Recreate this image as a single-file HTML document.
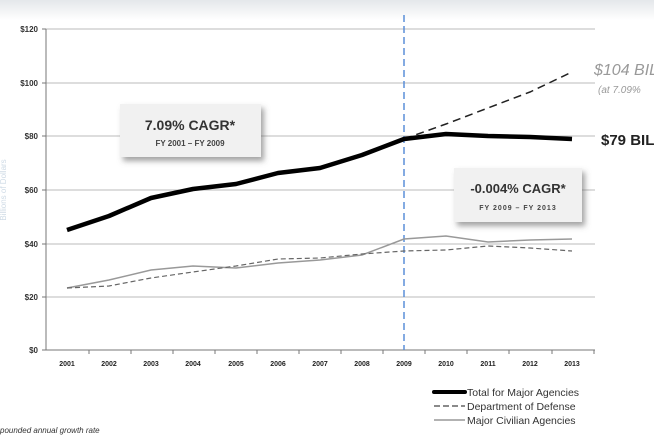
<!DOCTYPE html>
<html><head><style>
body{margin:0;background:#fff;}
svg text{font-family:"Liberation Sans",sans-serif;}
</style></head><body>
<svg width="654" height="436" xmlns="http://www.w3.org/2000/svg">
<defs>
<linearGradient id="fog" x1="0" y1="0" x2="0" y2="1"><stop offset="0" stop-color="#e4e7ea"/><stop offset="1" stop-color="#fff"/></linearGradient>
<filter id="sh" x="-20%" y="-20%" width="150%" height="160%"><feDropShadow dx="3" dy="4" stdDeviation="3" flood-color="#555" flood-opacity="0.55"/></filter>
</defs>
<rect width="654" height="20" fill="url(#fog)"/>
<g stroke="#bbb" stroke-width="1">
<line x1="46" y1="29" x2="595" y2="29"/><line x1="46" y1="83" x2="595" y2="83"/><line x1="46" y1="136" x2="595" y2="136"/><line x1="46" y1="190" x2="595" y2="190"/><line x1="46" y1="244" x2="595" y2="244"/><line x1="46" y1="297" x2="595" y2="297"/>
</g>
<g stroke="#777" stroke-width="1">
<line x1="46" y1="29" x2="46" y2="350"/><line x1="42" y1="350" x2="595" y2="350"/>
<line x1="42" y1="29" x2="46" y2="29"/><line x1="42" y1="83" x2="46" y2="83"/><line x1="42" y1="136" x2="46" y2="136"/><line x1="42" y1="190" x2="46" y2="190"/><line x1="42" y1="244" x2="46" y2="244"/><line x1="42" y1="297" x2="46" y2="297"/>
<line x1="89" y1="350" x2="89" y2="354"/><line x1="131" y1="350" x2="131" y2="354"/><line x1="173" y1="350" x2="173" y2="354"/><line x1="215" y1="350" x2="215" y2="354"/><line x1="257" y1="350" x2="257" y2="354"/><line x1="299" y1="350" x2="299" y2="354"/><line x1="341" y1="350" x2="341" y2="354"/><line x1="383" y1="350" x2="383" y2="354"/><line x1="425" y1="350" x2="425" y2="354"/><line x1="467" y1="350" x2="467" y2="354"/><line x1="509" y1="350" x2="509" y2="354"/><line x1="552" y1="350" x2="552" y2="354"/><line x1="594" y1="350" x2="594" y2="354"/>
</g>
<g font-size="8" fill="#333" text-anchor="end" font-weight="bold">
<text x="38" y="32">$120</text><text x="38" y="86">$100</text><text x="38" y="139">$80</text><text x="38" y="193">$60</text><text x="38" y="247">$40</text><text x="38" y="300">$20</text><text x="38" y="353">$0</text>
</g>
<text x="6" y="190" font-size="8" fill="#cfdbe6" transform="rotate(-90 6 190)" text-anchor="middle">Billions of Dollars</text>
<g font-size="7" fill="#222" text-anchor="middle" font-weight="bold">
<text x="67" y="366">2001</text><text x="109" y="366">2002</text><text x="151" y="366">2003</text><text x="193" y="366">2004</text><text x="236" y="366">2005</text><text x="278" y="366">2006</text><text x="320" y="366">2007</text><text x="362" y="366">2008</text><text x="404" y="366">2009</text><text x="446" y="366">2010</text><text x="488" y="366">2011</text><text x="530" y="366">2012</text><text x="572" y="366">2013</text>
</g>
<line x1="404" y1="15" x2="404" y2="350" stroke="#5b8fd8" stroke-width="1.5" stroke-dasharray="7,4"/>
<polyline fill="none" stroke="#999" stroke-width="1.5" points="67,288 109,280 151,270 193,266 236,268 278,263 320,260 362,255 404,239 446,236 488,242 530,240 572,239"/>
<polyline fill="none" stroke="#666" stroke-width="1.2" stroke-dasharray="5,3" points="67,288 109,286 151,278 193,272 236,266 278,259 320,258 362,254 404,251 446,250 488,246 530,248 572,251"/>
<polyline fill="none" stroke="#222" stroke-width="1.5" stroke-dasharray="8,5" points="404,139 446,124 488,108 530,92 572,72"/>
<polyline fill="none" stroke="#000" stroke-width="4.5" stroke-linejoin="round" points="67,230 109,216 151,198 193,189 236,184 278,173 320,168 362,155 404,139 446,134 488,136 530,137 572,139"/>
<text x="594" y="75" font-size="16" font-style="italic" fill="#999">$104 BIL</text>
<text x="598" y="93" font-size="10" font-style="italic" fill="#999">(at 7.09%</text>
<text x="601" y="145" font-size="15" fill="#222" font-weight="bold">$79 BIL</text>
<rect x="120" y="104" width="141" height="53" fill="#f1f1f1" filter="url(#sh)"/>
<text x="190" y="130" font-size="14" fill="#333" text-anchor="middle" font-weight="bold">7.09% CAGR*</text>
<text x="190" y="146" font-size="8" fill="#444" text-anchor="middle" font-weight="bold">FY 2001 – FY 2009</text>
<rect x="454" y="168" width="128" height="54" fill="#f1f1f1" filter="url(#sh)"/>
<text x="518" y="193" font-size="13" fill="#333" text-anchor="middle" font-weight="bold">-0.004% CAGR*</text>
<text x="518" y="210" font-size="7" fill="#444" text-anchor="middle" letter-spacing="1" font-weight="bold">FY 2009 – FY 2013</text>
<line x1="434" y1="392" x2="465" y2="392" stroke="#000" stroke-width="4" stroke-linecap="round"/>
<text x="467" y="396" font-size="10.5" fill="#333">Total for Major Agencies</text>
<line x1="434" y1="406" x2="465" y2="406" stroke="#444" stroke-width="1.3" stroke-dasharray="6,3"/>
<text x="467" y="410" font-size="10.5" fill="#333">Department of Defense</text>
<line x1="434" y1="420" x2="465" y2="420" stroke="#999" stroke-width="1.5"/>
<text x="467" y="424" font-size="10.5" fill="#333">Major Civilian Agencies</text>
<text x="0" y="433" font-size="8" font-style="italic" fill="#333">pounded annual growth rate</text>
</svg>
</body></html>
